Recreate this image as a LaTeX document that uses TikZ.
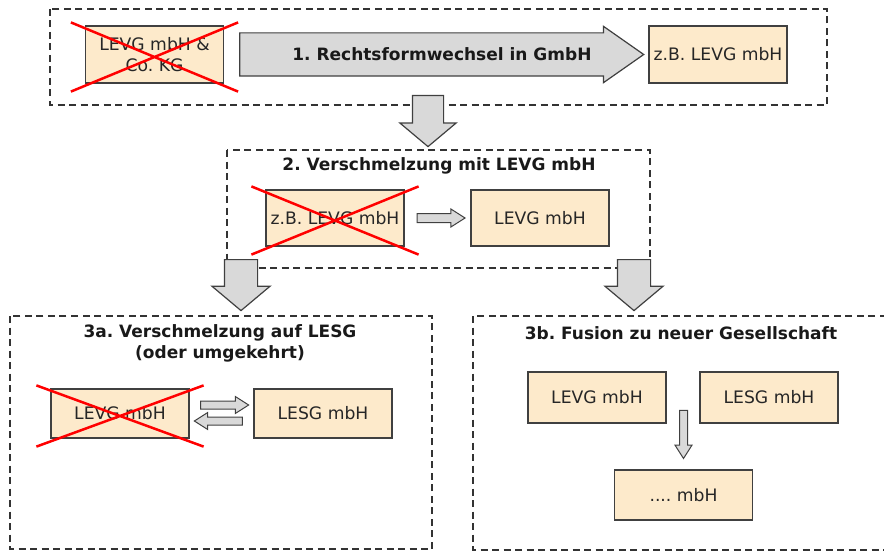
\documentclass[tikz,border=0pt]{standalone}
\usepackage{fontspec}
\setmainfont{DejaVu Sans}
\usetikzlibrary{shapes.arrows,calc}

\definecolor{firmfill}{HTML}{FDEACB}
\definecolor{firmline}{HTML}{404040}
\definecolor{arrowfill}{HTML}{D9D9D9}
\frenchspacing

\begin{document}
\begin{tikzpicture}[x=1pt,y=-1pt,
	firm/.style={draw=firmline, fill=firmfill, line width=1.2pt, minimum width=138pt, minimum height=56pt, inner sep=0pt, align=center, text=black!85, font=\fontsize{17.2}{21}\selectfont},
	frame/.style={draw=black!80, line width=1.5pt, dash pattern=on 7pt off 4.5pt},
	title/.style={align=center, text=black!90, font=\bfseries\fontsize{17}{21}\selectfont},
	blockarrow/.style={single arrow, draw=firmline, fill=arrowfill, line width=1.2pt, inner xsep=0pt, inner ysep=16pt, single arrow head extend=12.5pt, single arrow tip angle=100, minimum height=51pt},
	thinarrow/.style={single arrow, draw=firmline, fill=arrowfill, line width=1pt, inner xsep=0pt, inner ysep=3.5pt, single arrow head extend=4.5pt, single arrow tip angle=65, minimum height=48pt},
	cross/.style={draw=red, line width=2.5pt}
]

\useasboundingbox (0,0) rectangle (884,551);
\clip (0,0) rectangle (884,551);

%frames
\draw[frame] (50,9) rectangle (827,105);
\draw[frame] (227,150) rectangle (650,268);
\draw[frame] (10,316) rectangle (432,549);
\draw[frame] (473,316) rectangle (900,550);

% step 1
\node[firm, minimum height=57pt] (b0) at (154.5,54.5) {LEVG mbH \&\\Co. KG};
\node[firm, minimum height=57pt] (b1) at (718,54.5) {z.B. LEVG mbH};
\node[single arrow, draw=firmline, fill=arrowfill, line width=1.2pt, inner xsep=0pt, inner ysep=13.25pt, text height=12pt, text depth=3.5pt, single arrow head extend=6.5pt, single arrow tip angle=70, minimum height=404pt, anchor=tail] (r1) at ($(b0.east)+(15,0)$) {};
\node[title] (t1) at ($(r1.tail)!0.5!(r1.tip)$) {1. Rechtsformwechsel in GmbH};

% step 2
\node[title] (t2) at (439,166) {2. Verschmelzung mit LEVG mbH};
\node[firm] (b2) at (335,218) {z.B. LEVG mbH};
\node[firm] (b3) at (540,218) {LEVG mbH};
\node[thinarrow, inner ysep=4pt] (s1) at ($(b2.east)!0.5!(b3.west)$) {};

% step 3a
\node[title] (t3a) at (220,343) {3a. Verschmelzung auf LESG\\(oder umgekehrt)};
\node[firm, minimum height=49pt] (b4) at (120,413.5) {LEVG mbH};
\node[firm, minimum height=49pt] (b5) at (323,413.5) {LESG mbH};
\node[thinarrow] (s2) at ($($(b4.east)!0.5!(b5.west)$)+(0,-8.5)$) {};
\node[thinarrow, rotate=180] (s3) at ($($(b4.east)!0.5!(b5.west)$)+(0,7.5)$) {};

% step 3b
\node[title] (t3b) at (681,333) {3b. Fusion zu neuer Gesellschaft};
\node[firm, minimum height=51pt] (b6) at (597,397.5) {LEVG mbH};
\node[firm, minimum height=51pt] (b7) at (769,397.5) {LESG mbH};
\node[firm, minimum height=50pt] (b8) at (683.5,495) {.... mbH};
\node[thinarrow, rotate=-90, anchor=tip] (s4) at ($(b8.north)+(0,-10)$) {};

% arrows between steps
\node[blockarrow, inner ysep=15pt, rotate=-90, anchor=tail] (a1) at (428,95) {};
\node[blockarrow, rotate=-90, anchor=tail] (a2) at (241,259) {};
\node[blockarrow, rotate=-90, anchor=tail] (a3) at (634,259) {};

% crossed out
\foreach \n in {b0,b2,b4}
	\draw[cross] ($(\n.north west)+(-14,-3)$) -- ($(\n.south east)+(14,8)$)
		($(\n.south west)+(-14,8)$) -- ($(\n.north east)+(14,-3)$);

\end{tikzpicture}
\end{document}
